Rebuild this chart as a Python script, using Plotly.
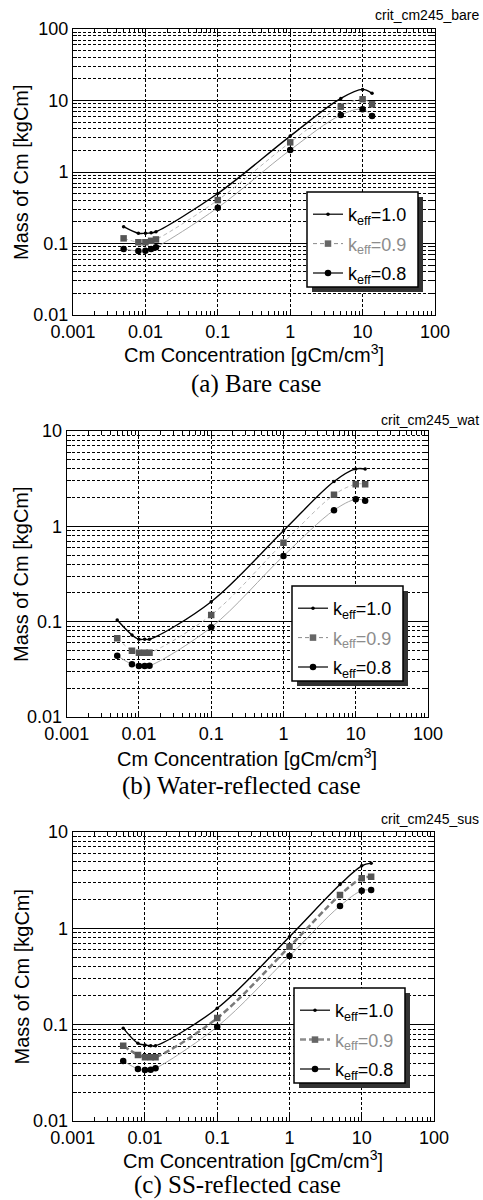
import plotly.graph_objects as go

# ---------------- data ----------------
conc = [0.005, 0.008, 0.01, 0.012, 0.014, 0.1, 1, 5, 10, 13.5]

bare_k10 = [0.172, 0.139, 0.139, 0.141, 0.146, 0.50, 3.18, 10.7, 14.3, 12.6]
bare_k09 = [0.118, 0.104, 0.104, 0.109, 0.114, 0.405, 2.6, 8.2, 10.4, 8.85]
bare_k08 = [0.0838, 0.0784, 0.079, 0.0838, 0.0886, 0.317, 2.03, 6.27, 7.53, 6.07]

wat_k10 = [0.104, 0.0725, 0.0654, 0.0654, 0.0654, 0.162, 0.90, 2.95, 4.0, 4.0]
wat_k09 = [0.067, 0.0496, 0.0473, 0.0473, 0.0473, 0.1175, 0.674, 2.14, 2.77, 2.77]
wat_k08 = [0.044, 0.0357, 0.0343, 0.0343, 0.0345, 0.0873, 0.489, 1.475, 1.92, 1.86]

sus_k10 = [0.092, 0.064, 0.0615, 0.0605, 0.0605, 0.148, 0.82, 2.85, 4.45, 4.75]
sus_k09 = [0.0605, 0.0485, 0.046, 0.046, 0.046, 0.117, 0.645, 2.22, 3.31, 3.44]
sus_k08 = [0.042, 0.0347, 0.0339, 0.034, 0.0352, 0.0953, 0.516, 1.71, 2.46, 2.5]

series_names = ["k<sub>eff</sub>=1.0",
                "<span style='color:#8c8c8c'>k<sub>eff</sub>=0.9</span>",
                "k<sub>eff</sub>=0.8"]

x_tick_vals = [0.001, 0.01, 0.1, 1, 10, 100]
x_tick_text = ["0.001", "0.01", "0.1", "1", "10", "100"]
y_tick_vals_a = [0.01, 0.1, 1, 10, 100]
y_tick_text_a = ["0.01", "0.1", "1", "10", "100"]
y_tick_vals_bc = [0.01, 0.1, 1, 10]
y_tick_text_bc = ["0.01", "0.1", "1", "10"]

panel_tags = ["crit_cm245_bare", "crit_cm245_wat", "crit_cm245_sus"]
captions = ["(a) Bare case", "(b) Water-reflected case", "(c) SS-reflected case"]
x_title = "Cm Concentration [gCm/cm<sup>3</sup>]"
y_title = "Mass of Cm [kgCm]"

# ---------------- layout geometry (pixels) ----------------
W, H = 483, 1200
FONT = "Liberation Sans, Arial, sans-serif"
SERIF = "Liberation Serif, Times New Roman, serif"

panels = [
    dict(x0=73, x1=435, y0=29, y1=315, yr=[-2, 2], yt=(y_tick_vals_a, y_tick_text_a),
         data=(bare_k10, bare_k09, bare_k08), leg=(307, 192), tag_y=15,
         xt_y=353, cap_y=384, cap_x=256, dash09=dict(color="#b8b8b8", width=1, dash="4px,3px")),
    dict(x0=66.7, x1=428, y0=431, y1=717, yr=[-2, 1], yt=(y_tick_vals_bc, y_tick_text_bc),
         data=(wat_k10, wat_k09, wat_k08), leg=(292, 586), tag_y=420,
         xt_y=757, cap_y=786, cap_x=241, dash09=dict(color="#b8b8b8", width=1, dash="4px,3px")),
    dict(x0=72.7, x1=434, y0=832, y1=1121, yr=[-2, 1], yt=(y_tick_vals_bc, y_tick_text_bc),
         data=(sus_k10, sus_k09, sus_k08), leg=(294, 988), tag_y=819,
         xt_y=1159, cap_y=1185, cap_x=237, dash09=dict(color="#7a7a7a", width=2.5, dash="6px,3px")),
]

minor_x = [m * 10.0 ** e for e in range(-3, 2) for m in range(2, 10)]
minor_y = [m * 10.0 ** e for e in range(-2, 2) for m in range(2, 10)]

fig = go.Figure()
annotations = []
shapes = []
layout_axes = {}

LEG_W, LEG_H = 111, 95
SH = 5

for i, p in enumerate(panels):
    n = i + 1
    xa = "x" if n == 1 else f"x{n}"
    ya = "y" if n == 1 else f"y{n}"
    legname = "legend" if n == 1 else f"legend{n}"
    k10, k09, k08 = p["data"]

    # curves (spline through the data)
    fig.add_trace(go.Scatter(x=conc, y=k10, mode="lines", line=dict(color="black", width=1.4, shape="spline"),
                             xaxis=xa, yaxis=ya, showlegend=False, hoverinfo="skip"))
    l09 = dict(p["dash09"]); l09["shape"] = "spline"
    fig.add_trace(go.Scatter(x=conc, y=k09, mode="lines", line=l09,
                             xaxis=xa, yaxis=ya, showlegend=False, hoverinfo="skip"))
    fig.add_trace(go.Scatter(x=conc, y=k08, mode="lines", line=dict(color="#a8a8a8", width=1, shape="spline"),
                             xaxis=xa, yaxis=ya, showlegend=False, hoverinfo="skip"))
    # markers
    fig.add_trace(go.Scatter(x=conc, y=k10, mode="markers", marker=dict(color="black", size=3.5, symbol="circle"),
                             xaxis=xa, yaxis=ya, showlegend=False))
    fig.add_trace(go.Scatter(x=conc, y=k09, mode="markers", marker=dict(color="#555555", size=6.5, symbol="square"),
                             xaxis=xa, yaxis=ya, showlegend=False))
    fig.add_trace(go.Scatter(x=conc, y=k08, mode="markers", marker=dict(color="black", size=6.5, symbol="circle"),
                             xaxis=xa, yaxis=ya, showlegend=False))
    # legend entries
    leg09_line = dict(color="#8c8c8c", width=p["dash09"]["width"], dash=p["dash09"]["dash"])
    fig.add_trace(go.Scatter(x=[None], y=[None], mode="lines+markers", name=series_names[0],
                             line=dict(color="black", width=1.2), marker=dict(color="black", size=3.5),
                             xaxis=xa, yaxis=ya, legend=legname, legendgroup=f"g{n}a"))
    fig.add_trace(go.Scatter(x=[None], y=[None], mode="lines+markers", name=series_names[1],
                             line=leg09_line, marker=dict(color="#666666", size=6.5, symbol="square"),
                             xaxis=xa, yaxis=ya, legend=legname, legendgroup=f"g{n}b"))
    fig.add_trace(go.Scatter(x=[None], y=[None], mode="lines+markers", name=series_names[2],
                             line=dict(color="black", width=1.2), marker=dict(color="black", size=6.5),
                             xaxis=xa, yaxis=ya, legend=legname, legendgroup=f"g{n}c"))

    xdom = [p["x0"] / W, p["x1"] / W]
    ydom = [1 - p["y1"] / H, 1 - p["y0"] / H]
    xkey = "xaxis" if n == 1 else f"xaxis{n}"
    ykey = "yaxis" if n == 1 else f"yaxis{n}"
    layout_axes[xkey] = dict(
        type="log", range=[-3, 2], domain=xdom, anchor=ya, automargin=False,
        tickmode="array", tickvals=x_tick_vals, ticktext=x_tick_text,
        ticks="inside", ticklen=6, tickcolor="black", tickwidth=1,
        showline=True, linecolor="black", linewidth=1, mirror="ticks",
        showgrid=True, gridcolor="black", gridwidth=1, griddash="3px,2px",
        zeroline=False, tickfont=dict(size=18, family=FONT, color="black"),
        minor=dict(tickmode="array", tickvals=minor_x, ticks="inside", ticklen=4,
                   tickcolor="black", showgrid=False),
    )
    yv, yt = p["yt"]
    layout_axes[ykey] = dict(
        type="log", range=p["yr"], domain=ydom, anchor=xa, automargin=False,
        tickmode="array", tickvals=yv, ticktext=yt,
        ticks="inside", ticklen=0, tickcolor="black",
        showline=True, linecolor="black", linewidth=1, mirror="ticks",
        showgrid=True, gridcolor="black", gridwidth=1,
        zeroline=False, tickfont=dict(size=18, family=FONT, color="black"),
        minor=dict(tickmode="array", tickvals=minor_y, ticks="inside", ticklen=4,
                   tickcolor="black", showgrid=True, gridcolor="black", gridwidth=1,
                   griddash="3px,2px"),
    )

    lx, ly = p["leg"]
    layout_axes[legname] = dict(
        x=(lx + 1) / W, y=1 - (ly + 4) / H, xanchor="left", yanchor="top",
        bgcolor="rgba(0,0,0,0)", borderwidth=0,
        font=dict(size=18, family=FONT, color="black"), tracegroupgap=3,
        itemwidth=30,
    )
    # legend shadow + box
    shapes.append(dict(type="rect", xref="paper", yref="paper",
                       x0=(lx + SH) / W, x1=(lx + LEG_W + SH) / W,
                       y0=1 - (ly + LEG_H + SH) / H, y1=1 - (ly + SH) / H,
                       fillcolor="#333333", line=dict(width=0), layer="above"))
    shapes.append(dict(type="rect", xref="paper", yref="paper",
                       x0=lx / W, x1=(lx + LEG_W) / W,
                       y0=1 - (ly + LEG_H) / H, y1=1 - ly / H,
                       fillcolor="white", line=dict(width=1.5, color="black"), layer="above"))

    # texts
    annotations.append(dict(text=panel_tags[i], x=481 / W, y=1 - p["tag_y"] / H, xref="paper", yref="paper",
                            xanchor="right", yanchor="middle", showarrow=False,
                            font=dict(size=14, family=FONT, color="black")))
    annotations.append(dict(text=x_title, x=(p["x0"] + p["x1"]) / 2 / W, y=1 - p["xt_y"] / H,
                            xref="paper", yref="paper", xanchor="center", yanchor="middle",
                            showarrow=False, font=dict(size=20, family=FONT, color="black")))
    annotations.append(dict(text=y_title, x=21 / W, y=1 - (p["y0"] + p["y1"]) / 2 / H,
                            xref="paper", yref="paper", xanchor="center", yanchor="middle",
                            textangle=-90, showarrow=False, font=dict(size=20, family=FONT, color="black")))
    annotations.append(dict(text=captions[i], x=p["cap_x"] / W, y=1 - p["cap_y"] / H,
                            xref="paper", yref="paper", xanchor="center", yanchor="middle",
                            showarrow=False, font=dict(size=25, family=SERIF, color="black")))

fig.update_layout(
    width=W, height=H, margin=dict(l=0, r=0, t=0, b=0),
    paper_bgcolor="white", plot_bgcolor="white",
    annotations=annotations, shapes=shapes, showlegend=True,
    font=dict(family=FONT, color="black"),
    **layout_axes,
)

fig.write_html("out.html")
